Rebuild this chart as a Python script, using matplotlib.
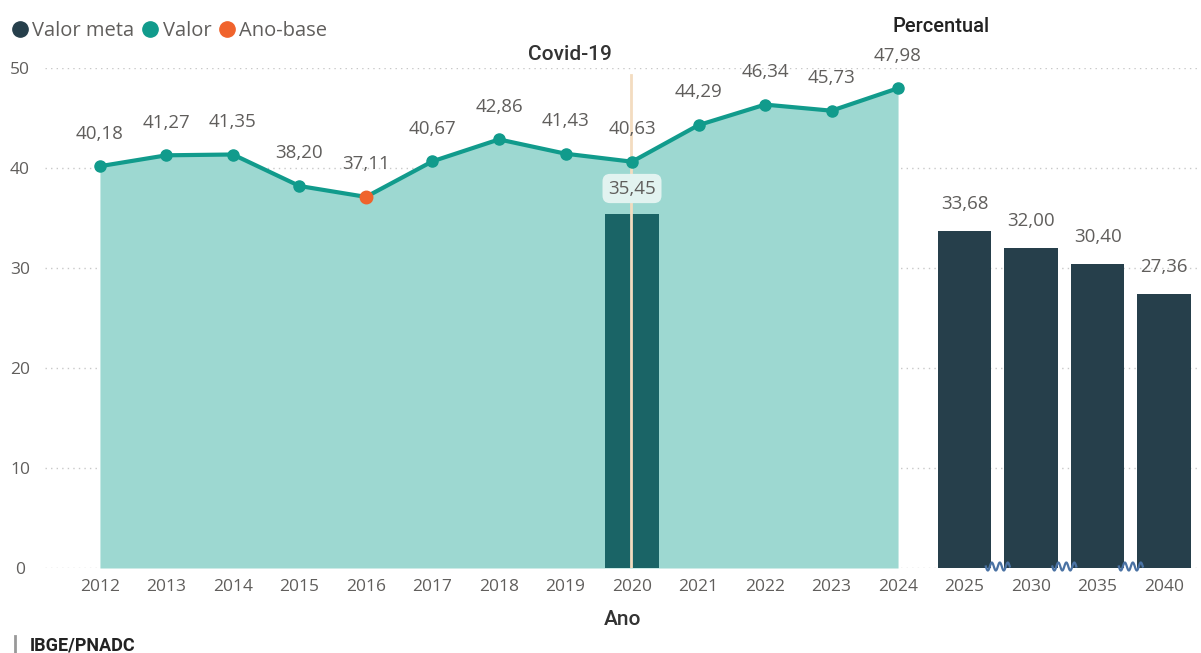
import numpy as np
import matplotlib
matplotlib.use("Agg")
import matplotlib.pyplot as plt
from matplotlib.lines import Line2D

# ---------------- data ----------------
years_line = ["2012", "2013", "2014", "2015", "2016", "2017", "2018",
              "2019", "2020", "2021", "2022", "2023", "2024"]
valor = [40.18, 41.27, 41.35, 38.20, 37.11, 40.67, 42.86,
         41.43, 40.63, 44.29, 46.34, 45.73, 47.98]
ano_base = "2016"
covid_year = "2020"
covid_bar = 35.45
years_meta = ["2025", "2030", "2035", "2040"]
valor_meta = [33.68, 32.00, 30.40, 27.36]
yticks = [0, 10, 20, 30, 40, 50]

categories = years_line + years_meta

# ---------------- style ----------------
C_AREA = "#9dd8d1"
C_LINE = "#119b8c"
C_META = "#263f4b"
C_COVBAR = "#1a6466"
C_BASE = "#f0632c"
C_TXT = "#605e5c"
C_GRID = "#c8c8c8"
C_COVID = "#f3dcc0"
C_WAVE = "#4a72a3"

plt.rcParams['font.family'] = ['Open Sans', 'DejaVu Sans']

fig = plt.figure(figsize=(12.01, 6.53), dpi=100)
W, H = 1201, 653
ax = fig.add_axes([45 / W, (H - 568) / H, (1200 - 45) / W, 500 / H])

x_all = np.arange(len(categories))
x_line = np.arange(len(years_line))
x_meta = np.arange(len(years_line), len(categories))

ax.set_xlim(-0.826, 16.54)
ax.set_ylim(0, 50)

# grid
for yv in yticks:
    ax.axhline(yv, color=C_GRID, lw=1, ls=(0, (1, 3)), zorder=0)

# area + line
ax.fill_between(x_line, valor, 0, color=C_AREA, lw=0, zorder=1)

# covid bar
ic = years_line.index(covid_year)
ax.bar(ic, covid_bar, width=0.8, color=C_COVBAR, zorder=2)

ax.plot(x_line, valor, color=C_LINE, lw=3, zorder=4,
        marker="o", ms=8, mfc=C_LINE, mec=C_LINE)
ib = years_line.index(ano_base)
ax.plot([ib], [valor[ib]], marker="o", ms=9, color=C_BASE, zorder=5, ls="none")

# covid line
ax.plot([ic - 0.02, ic - 0.02], [0, 49.3], color=C_COVID, lw=2, zorder=3)
ax.text(ic - 1.57, 51.3, "Covid-19", ha="left", va="center", fontsize=15,
        color="#333333", fontweight="medium", family=["Roboto", "DejaVu Sans"])

# meta bars
ax.bar(x_meta, valor_meta, width=0.8, color=C_META, zorder=2)


def fmt(v):
    return f"{v:.2f}".replace(".", ",")


LBL = 13.5
for xi, v in zip(x_line, valor):
    ax.annotate(fmt(v), (xi, v), xytext=(0, 23.5), textcoords="offset points",
                ha="center", va="center", fontsize=LBL, color=C_TXT, zorder=6)
for xi, v in zip(x_meta, valor_meta):
    ax.annotate(fmt(v), (xi, v), xytext=(0, 19.5), textcoords="offset points",
                ha="center", va="center", fontsize=LBL, color=C_TXT, zorder=6)
ax.annotate(fmt(covid_bar), (ic, covid_bar), xytext=(0, 18), textcoords="offset points",
            ha="center", va="center", fontsize=LBL, color=C_TXT, zorder=6,
            bbox=dict(boxstyle="round,pad=0.3,rounding_size=0.4",
                      fc="#e2f3f0", ec="none"))

# wavy break symbols between target bars
for k in range(len(x_meta) - 1):
    xc = x_meta[k] + 0.5
    t = np.linspace(-1, 1, 80)
    xs = xc + t * 0.18
    ys = 0.15 + 0.4 * np.sin(t * 2 * np.pi * 1.5)
    ax.plot(xs, ys, color=C_WAVE, lw=1.6, zorder=6, clip_on=False)

# axes
ax.set_xticks(x_all)
ax.set_xticklabels(categories)
ax.set_yticks(yticks)
ax.tick_params(axis="both", length=0, labelsize=12.5, labelcolor=C_TXT)
ax.tick_params(axis="x", pad=8)
ax.tick_params(axis="y", pad=18)
for lab in ax.get_yticklabels():
    lab.set_horizontalalignment("center")
for s in ax.spines.values():
    s.set_visible(False)
ax.set_xlabel("Ano", fontsize=15, color="#333333", labelpad=11,
              fontweight="medium", family=["Roboto", "DejaVu Sans"])

# legend
handles = [Line2D([], [], ls="none", marker="o", ms=11, color=C_META),
           Line2D([], [], ls="none", marker="o", ms=11, color=C_LINE),
           Line2D([], [], ls="none", marker="o", ms=11, color=C_BASE)]
fig.legend(handles, ["Valor meta", "Valor", "Ano-base"], loc="center left",
           bbox_to_anchor=(0.0, 1 - 31 / H), ncol=3, frameon=False,
           handletextpad=0.0, columnspacing=0.2, fontsize=14.5,
           labelcolor=C_TXT, handlelength=1.2, borderaxespad=0)

fig.text(892 / W, 1 - 27 / H, "Percentual", ha="left", va="center", fontsize=14.5,
         color="#222222", fontweight="medium", family=["Roboto", "DejaVu Sans"])

# source
fig.add_artist(Line2D([15 / W, 15 / W], [1 - 652 / H, 1 - 636 / H],
                      color="#999999", lw=2))
fig.text(30 / W, 1 - 645 / H, "IBGE/PNADC", ha="left", va="center", fontsize=13,
         color="#222222", fontweight="bold", family=["Roboto", "DejaVu Sans"])

fig.savefig("out.png", dpi=100)
